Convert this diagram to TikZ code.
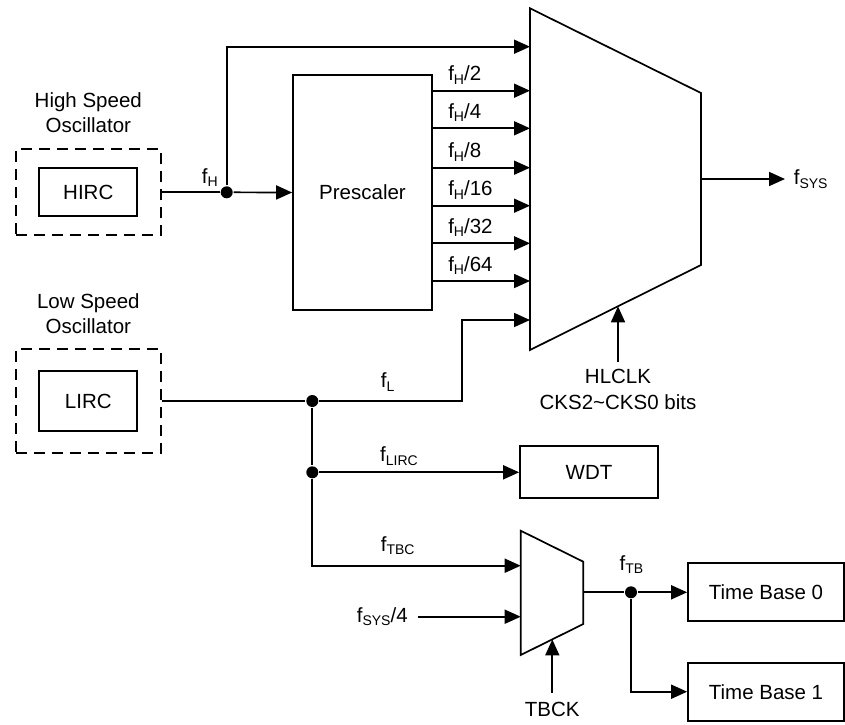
\documentclass[tikz,border=0pt]{standalone}
\usepackage{fontspec}
\setmainfont{Liberation Sans}
\usetikzlibrary{arrows.meta,positioning}

% f with a small lowered index, then an optional tail (e.g. /2)
\newcommand{\fsub}[2]{f\raisebox{-3.5pt}{\fontsize{14}{14}\selectfont #1}#2}

\begin{document}
\begin{tikzpicture}[x=1pt, y=-1pt, line width=1.7pt,
    >={Triangle[length=16pt,width=14pt]},
    font=\fontsize{20.5}{25}\selectfont,
    blk/.style={draw, inner sep=0pt},
    osc/.style={draw, dash pattern=on 11pt off 7pt, inner sep=0pt},
    lbl/.style={inner sep=0pt},
    jdot/.style={circle, fill, inner sep=0pt, minimum size=12pt}]
  \useasboundingbox (0,0) rectangle (845,724);

  % 1. Oscillators
  \node[osc, minimum width=145pt, minimum height=86pt] (hso) at (88.3,192.3) {};
  \node[blk, minimum width=98pt, minimum height=48pt] (hirc) at (88.3,192.3) {HIRC};
  \node[lbl, align=center, above=15pt of hso] (hsotxt) {High Speed\\Oscillator};

  \node[osc, minimum width=145pt, minimum height=104pt] (lso) at (88.3,401) {};
  \node[blk, minimum width=98pt, minimum height=60pt] (lirc) at (88.3,401) {LIRC};
  \node[lbl, align=center, above=14pt of lso] (lsotxt) {Low Speed\\Oscillator};

  % 2. Prescaler and system clock selector
  \node[blk, minimum width=139pt, minimum height=235pt] (pre) at (362.5,192.5) {Prescaler};

  \coordinate (mtl) at (530,8.3);
  \coordinate (mtr) at (701,93);
  \coordinate (mbr) at (701,265);
  \coordinate (mbl) at (530,350);
  \draw (mtl) -- (mtr) -- (mbr) -- (mbl) -- cycle;
  \foreach \y [count=\i] in {46.7,90.7,128.3,167.7,205.7,243.3,281,320}
    \coordinate (min\i) at (530,\y);
  \coordinate (mout) at (701,179);
  \coordinate (sysout) at (785,179);
  \coordinate (msel) at (618,306.3);
  \coordinate (hlclk) at (618,362);

  \node[jdot] (hdot) at (226.7,192.3) {};
  \node[lbl, anchor=base west] (fh) at (201,183) {\fsub{H}{}};
  \draw (hso.east) -- (hdot);
  \draw[->] (hdot) -- (pre.west);
  \draw[->] (hdot) |- (min1);

  \foreach \d [count=\i from 2] in {2,4,8,16,32,64}
    \draw[->] (pre.east |- min\i) -- (min\i)
      node[lbl, pos=0.15, anchor=base west, yshift=10pt] {\fsub{H}{/\d}};

  \draw[->] (mout) -- (sysout);
  \node[lbl, right=8pt of sysout] (fsys) {\fsub{SYS}{}};
  \draw[->] (hlclk) -- (msel);
  \node[lbl, align=center, below=6pt of hlclk, font=\fontsize{20.5}{26.5}\selectfont] (hlclktxt)
    {HLCLK\\CKS2\textasciitilde CKS0 bits};

  % 3. Low speed clock paths
  \node[jdot] (ldot1) at (312.3,401) {};
  \node[jdot] (ldot2) at (312.3,472.3) {};
  \coordinate (lbend) at (461.7,401);
  \draw (lso.east) -- (ldot1);
  \draw[->] (ldot1) -- (lbend) |- (min8);
  \node[lbl, anchor=base west] (fl) at (380,387.5) {\fsub{L}{}};
  \draw (ldot1) -- (ldot2);

  \node[blk, minimum width=138pt, minimum height=52pt] (wdt) at (589,472.3) {WDT};
  \draw[->] (ldot2) -- (wdt.west);
  \node[lbl, anchor=base west] (flirc) at (379.3,461.7) {\fsub{LIRC}{}};

  % 4. Time base selector
  \coordinate (ttl) at (520.7,530.7);
  \coordinate (ttr) at (583.3,561.7);
  \coordinate (tbr) at (583.3,624);
  \coordinate (tbl) at (520.7,655);
  \draw (ttl) -- (ttr) -- (tbr) -- (tbl) -- cycle;
  \coordinate (tin1) at (520.7,565.7);
  \coordinate (tin2) at (520.7,616.7);
  \coordinate (tout) at (583.3,592.3);
  \coordinate (tsel) at (552.3,639.4);
  \coordinate (tbck) at (552.3,693);

  \draw[->] (ldot2) |- (tin1);
  \node[lbl, anchor=base west] (ftbc) at (380,551) {\fsub{TBC}{}};
  \node[lbl, inner xsep=9pt, anchor=east] (fs4) at (417.5,616.7) {\fsub{SYS}{/4}};
  \draw[->] (fs4.east) -- (tin2);
  \draw[->] (tbck) -- (tsel);
  \node[lbl, below=8.7pt of tbck] (tbcktxt) {TBCK};

  \node[jdot] (tdot) at (631,592.3) {};
  \node[lbl, anchor=base] (ftb) at (631.5,570) {\fsub{TB}{}};
  \node[blk, minimum width=156pt, minimum height=58pt] (tb0) at (766,592.3) {Time Base 0};
  \node[blk, minimum width=156pt, minimum height=58pt] (tb1) at (766,691.7) {Time Base 1};
  \draw (tout) -- (tdot);
  \draw[->] (tdot) -- (tb0.west);
  \draw[->] (tdot) |- (tb1.west);
\end{tikzpicture}
\end{document}
